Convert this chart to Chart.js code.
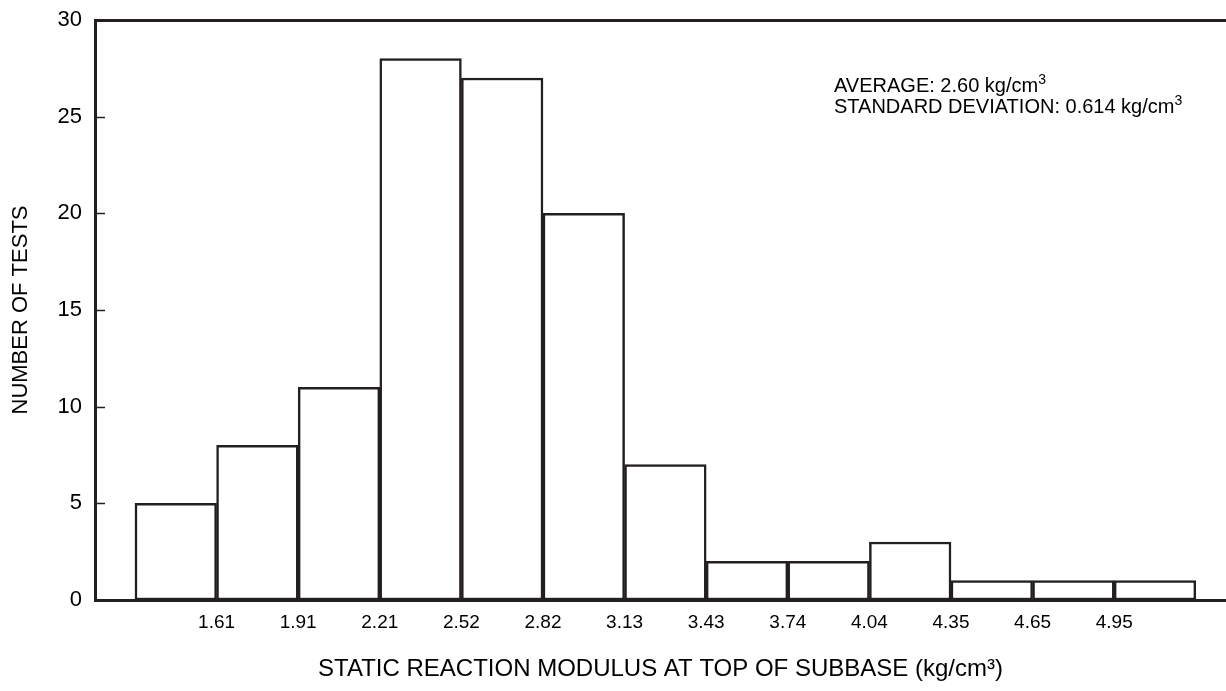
<!DOCTYPE html>
<html>
<head>
<meta charset="utf-8">
<script src="https://cdn.jsdelivr.net/npm/chart.js@4.4.1/dist/chart.umd.min.js"></script>
<style>
  html, body { margin: 0; padding: 0; background: #fff; }
  #wrap { width: 1226px; height: 691px; position: relative; }
</style>
</head>
<body>
<div id="wrap"><canvas id="histChart"></canvas></div>
<script>
// bin boundaries shown under the x axis (kg/cm3)
const binEdges = ['1.61', '1.91', '2.21', '2.52', '2.82', '3.13', '3.43', '3.74', '4.04', '4.35', '4.65', '4.95'];
// number of tests in each of the 13 bins
const testCounts = [5, 8, 11, 28, 27, 20, 7, 2, 2, 3, 1, 1, 1];
const yTicks = [0, 5, 10, 15, 20, 25, 30];
const noteLines = ['AVERAGE: 2.60 kg/cm', 'STANDARD DEVIATION: 0.614 kg/cm'];

const ink = '#231f20';
const fontFam = '"Liberation Sans", Arial, Helvetica, sans-serif';

// inside tick marks on the y axis + the stats note
const extrasPlugin = {
    id: 'extras',
    afterDraw(chart) {
        const ctx = chart.ctx;
        const y = chart.scales.y;
        const area = chart.chartArea;
        ctx.save();
        ctx.strokeStyle = ink;
        ctx.lineWidth = 1.5;
        yTicks.slice(1, -1).forEach(v => {
            const py = Math.round(y.getPixelForValue(v)) + 0.5;
            ctx.beginPath();
            ctx.moveTo(area.left, py);
            ctx.lineTo(area.left + 10, py);
            ctx.stroke();
        });

        // note, with superscript 3
        ctx.fillStyle = '#000';
        ctx.textBaseline = 'alphabetic';
        ctx.textAlign = 'left';
        const x0 = area.left + 739;
        noteLines.forEach((line, i) => {
            const base = area.top + 72 + i * 21;
            ctx.font = '20px ' + fontFam;
            ctx.fillText(line, x0, base);
            const w = ctx.measureText(line).width;
            ctx.font = '14px ' + fontFam;
            ctx.fillText('3', x0 + w, base - 8);
        });
        ctx.restore();
    }
};

new Chart(document.getElementById('histChart'), {
    type: 'bar',
    data: {
        datasets: [{
            data: testCounts.map((c, i) => ({ x: i + 0.5, y: c })),
            backgroundColor: '#ffffff',
            borderColor: ink,
            borderWidth: 2.5,
            borderSkipped: false,
            barPercentage: 1,
            categoryPercentage: 1
        }]
    },
    options: {
        responsive: true,
        maintainAspectRatio: false,
        animation: false,
        layout: { padding: 0 },
        plugins: {
            legend: { display: false },
            tooltip: { enabled: false }
        },
        scales: {
            x: {
                type: 'linear',
                position: 'bottom',
                min: -0.49,
                max: 13.37,
                offset: false,
                z: 1,
                afterBuildTicks: s => { s.ticks = binEdges.map((_, i) => ({ value: i + 1 })); },
                afterFit: s => { s.height = 91; s.paddingLeft = 0; s.paddingRight = 0; },
                ticks: {
                    autoSkip: false,
                    maxRotation: 0,
                    padding: 11,
                    color: '#000',
                    font: { family: fontFam, size: 19 },
                    callback: v => binEdges[v - 1]
                },
                grid: { display: false, drawTicks: false },
                border: { display: true, color: ink, width: 3 },
                title: {
                    display: true,
                    text: 'STATIC REACTION MODULUS AT TOP OF SUBBASE (kg/cm³)',
                    color: '#000',
                    font: { family: fontFam, size: 24 },
                    padding: { top: 0, bottom: 7 }
                }
            },
            xTop: {
                type: 'linear',
                position: 'top',
                display: true,
                afterFit: s => { s.height = 20; s.paddingLeft = 0; s.paddingRight = 0; },
                ticks: { display: false },
                grid: { display: false, drawTicks: false },
                border: { display: true, color: ink, width: 3 }
            },
            y: {
                min: 0,
                max: 30,
                z: 1,
                afterBuildTicks: s => { s.ticks = yTicks.map(v => ({ value: v })); },
                afterFit: s => { s.width = 95; s.paddingTop = 0; s.paddingBottom = 0; },
                ticks: {
                    padding: 13,
                    color: '#000',
                    font: { family: fontFam, size: 22 }
                },
                grid: { display: false, drawTicks: false },
                border: { display: true, color: ink, width: 3 },
                title: {
                    display: true,
                    text: 'NUMBER OF TESTS',
                    color: '#000',
                    font: { family: fontFam, size: 22 },
                    padding: { top: 8, bottom: 0 }
                }
            }
        }
    },
    plugins: [extrasPlugin]
});
</script>
</body>
</html>
